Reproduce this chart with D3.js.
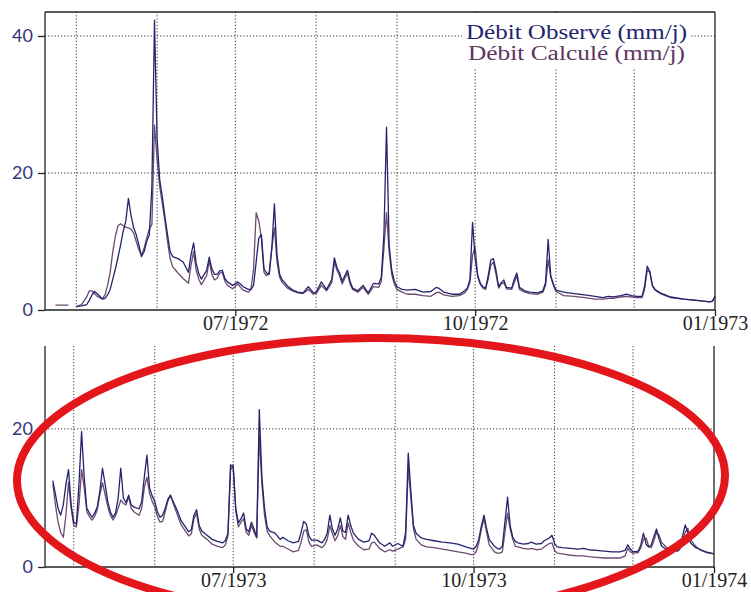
<!DOCTYPE html>
<html>
<head>
<meta charset="utf-8">
<script src="https://cdn.jsdelivr.net/npm/d3@7"></script>
<style>
  body { margin: 0; background: #fff; }
  svg { display: block; }
</style>
</head>
<body>
<svg id="chart" width="751" height="592"></svg>
<script>
// ---- Période 1 : avril 1972 – janvier 1973 (débits journaliers, mm/j) ----
const datesTop = [
  "1972-04-23","1972-04-28","1972-04-29","1972-05-01","1972-05-03","1972-05-05","1972-05-06","1972-05-07","1972-05-08","1972-05-09",
  "1972-05-10","1972-05-11","1972-05-12","1972-05-13","1972-05-14","1972-05-15","1972-05-16","1972-05-17","1972-05-18","1972-05-19",
  "1972-05-20","1972-05-21","1972-05-22","1972-05-23","1972-05-24","1972-05-25","1972-05-26","1972-05-27","1972-05-28","1972-05-29",
  "1972-05-30","1972-05-31","1972-06-01","1972-06-02","1972-06-03","1972-06-04","1972-06-05","1972-06-06","1972-06-07","1972-06-09",
  "1972-06-11","1972-06-13","1972-06-14","1972-06-15","1972-06-16","1972-06-17","1972-06-18","1972-06-20","1972-06-21","1972-06-22",
  "1972-06-23","1972-06-24","1972-06-25","1972-06-26","1972-06-27","1972-06-28","1972-06-30","1972-07-02","1972-07-03","1972-07-04",
  "1972-07-06","1972-07-07","1972-07-08","1972-07-09","1972-07-10","1972-07-11","1972-07-12","1972-07-13","1972-07-14","1972-07-15",
  "1972-07-16","1972-07-17","1972-07-18","1972-07-19","1972-07-21","1972-07-23","1972-07-25","1972-07-27","1972-07-29","1972-07-31",
  "1972-08-01","1972-08-03","1972-08-05","1972-08-07","1972-08-08","1972-08-09","1972-08-10","1972-08-11","1972-08-13","1972-08-14",
  "1972-08-15","1972-08-17","1972-08-19","1972-08-21","1972-08-23","1972-08-25","1972-08-26","1972-08-27","1972-08-28","1972-08-29",
  "1972-08-30","1972-08-31","1972-09-01","1972-09-03","1972-09-05","1972-09-08","1972-09-11","1972-09-14","1972-09-16","1972-09-17",
  "1972-09-19","1972-09-22","1972-09-25","1972-09-27","1972-09-28","1972-09-29","1972-09-30","1972-10-01","1972-10-02","1972-10-03",
  "1972-10-04","1972-10-05","1972-10-06","1972-10-07","1972-10-08","1972-10-09","1972-10-10","1972-10-11","1972-10-12","1972-10-13",
  "1972-10-15","1972-10-16","1972-10-17","1972-10-18","1972-10-20","1972-10-22","1972-10-25","1972-10-27","1972-10-28","1972-10-29",
  "1972-10-30","1972-10-31","1972-11-01","1972-11-04","1972-11-08","1972-11-12","1972-11-16","1972-11-19","1972-11-21","1972-11-23",
  "1972-11-26","1972-11-28","1972-11-30","1972-12-02","1972-12-04","1972-12-05","1972-12-06","1972-12-07","1972-12-08","1972-12-09",
  "1972-12-11","1972-12-15","1972-12-20","1972-12-25","1972-12-30","1972-12-31","1973-01-01"
];
const obsTop = [
  null,null,null,0.5,0.6,0.8,1.4,2.2,2.7,2.4,
  2.0,1.6,1.7,2.2,3.0,4.5,6.0,7.7,9.5,11.5,
  13.0,16.3,13.8,12.0,11.0,9.5,7.8,8.5,10.0,11.0,
  18.0,42.3,25.0,19.0,16.5,13.6,11.0,8.5,7.8,7.5,
  7.0,5.5,8.0,9.8,6.8,5.3,4.5,5.8,7.7,6.0,
  5.2,5.2,5.7,5.8,4.6,4.1,3.6,4.1,3.8,3.4,
  3.0,3.0,3.6,7.0,10.5,11.0,6.0,5.4,5.2,9.0,
  15.5,8.0,5.2,4.4,3.5,2.9,2.6,2.5,3.4,2.5,
  2.6,4.1,3.0,4.5,7.6,6.2,5.4,4.2,5.8,4.2,
  3.2,2.8,3.6,2.5,3.9,3.8,4.8,11.0,26.7,9.5,
  5.8,4.2,3.4,3.0,2.9,3.0,2.6,2.7,3.3,3.2,
  2.6,2.3,2.3,2.8,3.2,4.5,12.8,7.5,5.0,3.9,
  3.4,3.2,5.0,7.3,7.5,5.8,3.4,4.0,4.4,3.3,
  3.2,4.5,5.4,3.3,2.8,2.6,2.5,2.8,4.0,10.3,
  5.0,3.8,2.9,2.6,2.4,2.2,2.0,1.8,2.0,1.9,
  2.1,2.3,2.1,2.0,2.0,3.5,6.4,5.6,3.6,3.0,
  2.5,1.9,1.6,1.4,1.2,1.3,2.0
];
const calcTop = [
  0.7,0.7,null,0.5,0.8,1.9,2.8,2.8,2.4,2.0,
  1.8,1.6,2.2,3.6,5.5,8.5,10.8,12.3,12.6,12.3,
  12.1,12.0,11.8,11.2,10.0,8.8,8.0,9.0,10.5,11.8,
  12.5,27.0,22.0,18.0,15.5,13.0,10.0,7.5,6.3,5.4,
  4.6,3.9,6.5,8.5,5.8,4.5,3.7,5.0,7.2,5.2,
  4.4,4.6,5.4,5.5,4.2,3.6,3.1,3.8,3.3,2.9,
  2.6,3.0,6.0,14.2,13.0,10.5,5.5,5.0,5.5,9.0,
  12.0,7.0,4.8,4.0,3.2,2.8,2.5,2.4,3.0,2.3,
  2.4,3.6,2.8,4.0,7.0,5.8,5.0,3.8,5.4,3.8,
  3.0,2.6,3.3,2.3,3.4,3.3,4.2,9.0,14.2,8.5,
  5.2,3.8,3.0,2.6,2.3,2.3,2.1,2.0,2.5,2.6,
  2.2,2.0,2.1,2.5,3.0,4.0,8.0,9.2,4.8,3.7,
  3.2,3.0,4.5,6.5,7.0,5.2,3.2,3.8,4.0,3.1,
  3.0,4.0,5.0,3.0,2.6,2.4,2.3,2.6,3.6,7.3,
  4.8,3.6,2.7,2.1,2.0,1.8,1.6,1.6,1.7,1.7,
  1.9,2.0,1.9,1.8,1.8,3.0,5.8,5.5,3.5,2.9,
  2.4,1.8,1.6,1.4,1.2,1.3,1.9
];

// ---- Période 2 : avril 1973 – janvier 1974 ----
const datesBottom = [
  "1973-04-23","1973-04-24","1973-04-25","1973-04-26","1973-04-27","1973-04-28","1973-04-29","1973-04-30","1973-05-01","1973-05-02",
  "1973-05-03","1973-05-04","1973-05-05","1973-05-06","1973-05-07","1973-05-08","1973-05-09","1973-05-10","1973-05-11","1973-05-12",
  "1973-05-13","1973-05-14","1973-05-15","1973-05-16","1973-05-17","1973-05-18","1973-05-19","1973-05-20","1973-05-21","1973-05-22",
  "1973-05-23","1973-05-24","1973-05-26","1973-05-27","1973-05-28","1973-05-29","1973-05-30","1973-05-31","1973-06-01","1973-06-02",
  "1973-06-03","1973-06-04","1973-06-05","1973-06-06","1973-06-07","1973-06-08","1973-06-09","1973-06-10","1973-06-11","1973-06-12",
  "1973-06-14","1973-06-15","1973-06-16","1973-06-17","1973-06-18","1973-06-19","1973-06-21","1973-06-23","1973-06-25","1973-06-27",
  "1973-06-28","1973-06-29","1973-06-30","1973-07-01","1973-07-02","1973-07-03","1973-07-04","1973-07-05","1973-07-06","1973-07-07",
  "1973-07-08","1973-07-09","1973-07-10","1973-07-11","1973-07-12","1973-07-13","1973-07-14","1973-07-15","1973-07-17","1973-07-19",
  "1973-07-20","1973-07-22","1973-07-24","1973-07-26","1973-07-27","1973-07-28","1973-07-29","1973-07-30","1973-07-31","1973-08-02",
  "1973-08-04","1973-08-05","1973-08-06","1973-08-07","1973-08-08","1973-08-09","1973-08-10","1973-08-11","1973-08-12","1973-08-13",
  "1973-08-14","1973-08-15","1973-08-16","1973-08-18","1973-08-20","1973-08-22","1973-08-23","1973-08-24","1973-08-26","1973-08-28",
  "1973-08-30","1973-08-31","1973-09-02","1973-09-04","1973-09-05","1973-09-06","1973-09-07","1973-09-08","1973-09-09","1973-09-11",
  "1973-09-13","1973-09-16","1973-09-19","1973-09-22","1973-09-25","1973-09-28","1973-09-30","1973-10-01","1973-10-02","1973-10-03",
  "1973-10-04","1973-10-05","1973-10-06","1973-10-07","1973-10-09","1973-10-10","1973-10-11","1973-10-12","1973-10-13","1973-10-14",
  "1973-10-15","1973-10-16","1973-10-17","1973-10-18","1973-10-20","1973-10-22","1973-10-23","1973-10-25","1973-10-27","1973-10-28",
  "1973-10-30","1973-10-31","1973-11-01","1973-11-02","1973-11-04","1973-11-07","1973-11-10","1973-11-12","1973-11-14","1973-11-17",
  "1973-11-20","1973-11-23","1973-11-26","1973-11-28","1973-11-29","1973-11-30","1973-12-01","1973-12-03","1973-12-04","1973-12-05",
  "1973-12-06","1973-12-07","1973-12-08","1973-12-09","1973-12-10","1973-12-11","1973-12-12","1973-12-14","1973-12-16","1973-12-18",
  "1973-12-19","1973-12-20","1973-12-21","1973-12-22","1973-12-23","1973-12-25","1973-12-27","1973-12-29","1974-01-01"
];
const obsBottom = [
  12.5,10.5,8.5,7.5,9.0,12.0,14.1,9.0,6.5,6.2,
  12.0,19.6,13.0,8.5,7.8,7.2,7.8,8.7,11.0,14.3,
  12.0,9.5,8.0,7.2,7.8,10.0,14.3,10.0,9.3,10.4,
  9.0,8.7,8.4,9.5,13.0,16.2,11.5,10.3,9.5,8.0,
  7.2,7.5,8.5,9.8,10.4,9.5,8.7,7.8,6.8,6.2,
  5.1,5.4,7.5,8.3,6.0,5.2,4.6,4.0,3.7,3.5,
  3.8,4.9,14.8,14.5,8.5,6.4,7.0,7.8,5.5,5.1,
  6.5,5.5,4.3,22.8,13.0,8.5,5.8,5.2,4.9,4.0,
  4.3,3.8,3.5,3.7,5.0,6.6,6.2,4.5,3.9,3.9,
  3.5,4.0,4.9,7.5,5.5,4.6,5.5,7.1,5.2,5.0,
  7.5,6.0,4.9,4.0,3.6,3.8,4.9,4.6,3.5,3.0,
  3.5,3.0,3.4,3.0,5.0,16.5,11.0,6.0,4.9,4.2,
  4.0,3.8,3.6,3.5,3.3,2.9,2.7,2.6,3.0,4.0,
  6.0,7.5,5.5,4.0,3.0,2.7,2.6,3.0,6.5,10.1,
  6.0,4.3,3.7,3.5,3.3,3.4,3.6,3.3,3.4,3.8,
  4.2,4.6,3.4,2.9,2.8,2.7,2.6,2.7,2.5,2.4,
  2.3,2.2,2.2,2.4,3.2,2.6,2.2,2.3,3.2,4.9,
  3.3,2.9,3.2,4.4,5.5,4.0,3.0,2.5,2.4,2.3,
  2.6,4.5,6.1,5.0,3.5,2.8,2.5,2.2,1.9
];
const calcBottom = [
  12.0,9.0,6.5,5.0,4.3,7.5,12.3,8.5,6.0,5.8,
  9.0,14.1,11.5,8.0,7.3,6.8,7.3,8.3,10.5,12.2,
  10.5,8.8,7.5,6.8,7.4,8.5,9.7,9.2,9.0,10.2,
  8.5,8.0,7.5,8.5,11.5,13.0,10.7,9.5,8.7,7.3,
  6.5,6.6,8.0,9.5,10.4,9.3,8.2,7.2,6.2,5.6,
  4.5,4.8,7.0,7.8,5.5,4.6,4.0,3.3,3.0,2.8,
  3.2,4.5,14.0,14.8,8.0,5.8,6.5,7.0,5.0,4.6,
  6.0,5.0,4.2,19.0,12.0,7.5,5.2,4.5,3.6,3.0,
  3.0,2.6,2.2,2.4,3.6,5.2,5.4,3.6,3.0,3.2,
  2.8,3.2,4.0,6.0,4.8,3.8,4.5,6.0,4.4,4.0,
  6.4,5.0,3.9,3.0,2.5,2.6,3.5,3.6,2.7,2.2,
  2.5,2.3,2.6,2.9,4.0,14.5,10.0,5.5,4.0,3.2,
  2.9,2.8,2.6,2.4,2.2,2.0,1.8,1.8,2.2,3.5,
  5.5,7.0,5.0,3.2,2.2,2.0,2.0,2.2,5.0,7.8,
  5.5,4.0,3.0,2.9,2.7,2.6,2.7,2.5,2.6,2.9,
  3.4,3.5,2.4,2.0,1.9,1.7,1.6,1.6,1.5,1.4,
  1.3,1.3,1.3,1.6,2.7,2.2,2.0,2.1,2.8,4.0,
  4.2,3.0,2.8,3.8,5.0,4.6,3.5,2.8,2.5,2.4,
  2.8,4.0,5.0,5.6,4.0,3.0,2.4,2.1,1.9
];

// Légende et libellés
const legendLabels = ["Débit Observé (mm/j)", "Débit Calculé (mm/j)"];
const colorObs = "#24246e";
const colorCalc = "#5e3560";

const parse = d3.timeParse("%Y-%m-%d");
const svg = d3.select("#chart");

const panels = [
  {
    dates: datesTop, obs: obsTop, calc: calcTop,
    start: "1972-04-19", end: "1973-01-01",
    yMax: 43.5, yTicks: [0, 20, 40], xTicks: ["1972-07-01", "1972-10-01", "1973-01-01"],
    top: 12, bottom: 310, left: 45, right: 715, topBorder: true, legend: true
  },
  {
    dates: datesBottom, obs: obsBottom, calc: calcBottom,
    start: "1973-04-20", end: "1974-01-01",
    yMax: 32, yTicks: [0, 20], xTicks: ["1973-07-01", "1973-10-01", "1974-01-01"],
    top: 346, bottom: 567, left: 45, right: 714, topBorder: false, legend: false
  }
];

const fmt = d3.timeFormat("%m/%Y");

panels.forEach(p => {
  const x = d3.scaleTime().domain([parse(p.start), parse(p.end)]).range([p.left, p.right]);
  const y = d3.scaleLinear().domain([0, p.yMax]).range([p.bottom, p.top]);
  const g = svg.append("g");

  // grille pointillée : un trait par mois
  const months = d3.timeMonth.range(d3.timeMonth.ceil(parse(p.start)), parse(p.end));
  g.append("g").selectAll("line").data(months).join("line")
    .attr("x1", d => x(d)).attr("x2", d => x(d))
    .attr("y1", p.top).attr("y2", p.bottom)
    .attr("stroke", "#333").attr("stroke-width", 1)
    .attr("stroke-dasharray", "1.2,2");
  g.append("g").selectAll("line").data(p.yTicks.filter(v => v > 0)).join("line")
    .attr("x1", p.left).attr("x2", p.right)
    .attr("y1", d => y(d)).attr("y2", d => y(d))
    .attr("stroke", "#333").attr("stroke-width", 1)
    .attr("stroke-dasharray", "1.2,2");

  // légende sur fond blanc
  if (p.legend) {
    g.append("rect").attr("x", 462).attr("y", p.top + 1).attr("width", 228).attr("height", 56).attr("fill", "#fff");
    const lg = g.append("g").attr("font-family", "'Liberation Serif', 'Times New Roman', serif").attr("font-size", 20);
    lg.append("text").attr("x", 466).attr("y", 39).attr("fill", colorObs)
      .attr("textLength", 221).attr("lengthAdjust", "spacingAndGlyphs").text(legendLabels[0]);
    lg.append("text").attr("x", 468).attr("y", 60).attr("fill", colorCalc)
      .attr("textLength", 217).attr("lengthAdjust", "spacingAndGlyphs").text(legendLabels[1]);
  }

  // séries
  const rows = p.dates.map((d, i) => ({ date: parse(d), obs: p.obs[i], calc: p.calc[i] }));
  const mk = key => d3.line().defined(d => d[key] != null).x(d => x(d.date)).y(d => y(d[key]));
  g.append("path").datum(rows).attr("d", mk("calc"))
    .attr("fill", "none").attr("stroke", colorCalc).attr("stroke-width", 1.3).attr("stroke-linejoin", "round").attr("opacity", 0.9);
  g.append("path").datum(rows).attr("d", mk("obs"))
    .attr("fill", "none").attr("stroke", colorObs).attr("stroke-width", 1.3).attr("stroke-linejoin", "round");

  // cadre
  const frame = g.append("g").attr("stroke", "#222").attr("stroke-width", 1.3);
  frame.append("line").attr("x1", p.left).attr("x2", p.left).attr("y1", p.top).attr("y2", p.bottom);
  frame.append("line").attr("x1", p.left).attr("x2", p.right).attr("y1", p.bottom).attr("y2", p.bottom);
  frame.append("line").attr("x1", p.right).attr("x2", p.right).attr("y1", p.top).attr("y2", p.bottom);
  if (p.topBorder) frame.append("line").attr("x1", p.left).attr("x2", p.right).attr("y1", p.top).attr("y2", p.top);

  // axe Y
  const ya = g.append("g").attr("transform", `translate(${p.left},0)`)
    .call(d3.axisLeft(y).tickValues(p.yTicks).tickSize(7).tickPadding(5).tickFormat(d3.format("d")));
  ya.select(".domain").remove();
  ya.selectAll(".tick line").attr("stroke", "#222").attr("stroke-width", 1.3);
  ya.selectAll(".tick text").attr("fill", "#35357a").attr("font-family", "Lato, sans-serif").attr("font-size", 18);

  // axe X
  const xa = g.append("g").attr("transform", `translate(0,${p.bottom})`)
    .call(d3.axisBottom(x).tickValues(p.xTicks.map(parse)).tickSize(6).tickPadding(0).tickFormat(fmt));
  xa.select(".domain").remove();
  xa.selectAll(".tick line").attr("stroke", "#222").attr("stroke-width", 1.3);
  xa.selectAll(".tick text").attr("fill", "#222")
    .attr("font-family", "'Liberation Serif', 'Times New Roman', serif").attr("font-size", 20);
});

// annotation : ellipse rouge autour de la seconde période
svg.append("ellipse")
  .attr("cx", 371).attr("cy", 478).attr("rx", 354).attr("ry", 140)
  .attr("transform", "rotate(-0.5 371 478)")
  .attr("fill", "none").attr("stroke", "#e3161c").attr("stroke-width", 8);
</script>
</body>
</html>
